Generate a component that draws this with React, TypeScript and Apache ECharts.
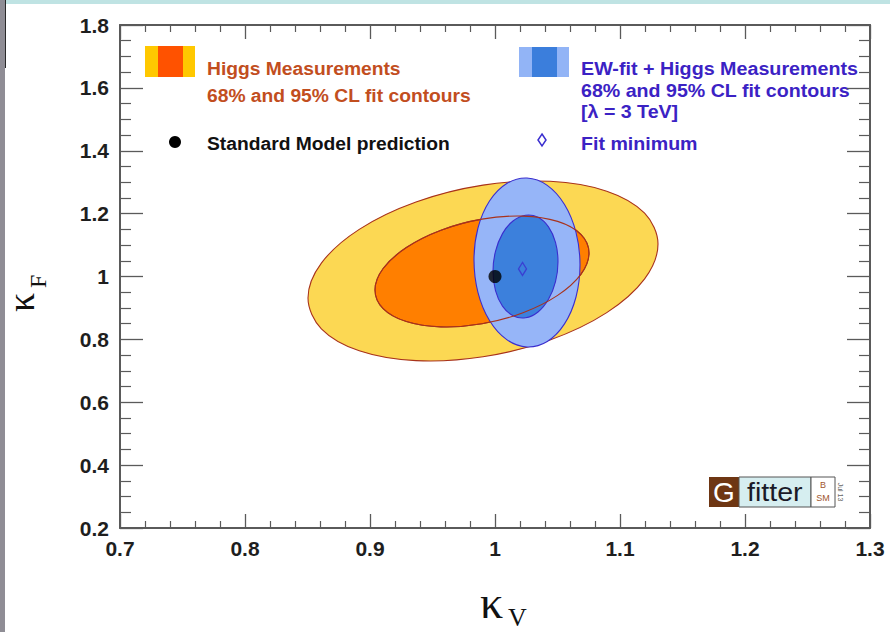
import React, { useEffect, useRef } from "react";
import * as echarts from "echarts";

// Axis ranges and tick labels
const X_MIN = 0.7;
const X_MAX = 1.3;
const X_STEP = 0.1;
const Y_MIN = 0.2;
const Y_MAX = 1.8;
const Y_STEP = 0.2;
const xTickLabels = ["0.7", "0.8", "0.9", "1", "1.1", "1.2", "1.3"];
const yTickLabels = ["0.2", "0.4", "0.6", "0.8", "1", "1.2", "1.4", "1.6", "1.8"];

// Fit contours in the (kappa_V, kappa_F) plane, traced point by point
const higgs95 = [
  [1.1304, 1.1035], [1.1197, 0.9925], [1.0894, 0.8852], [1.0440, 0.7982],
  [0.9904, 0.7445], [0.9368, 0.7324], [0.8914, 0.7638], [0.8611, 0.8337],
  [0.8504, 0.9317], [0.8611, 1.0427], [0.8914, 1.1500], [0.9368, 1.2370],
  [0.9904, 1.2907], [1.0440, 1.3028], [1.0894, 1.2714], [1.1197, 1.2015],
];
const higgs68 = [
  [1.0752, 1.0748], [1.0687, 1.0066], [1.0501, 0.9399], [1.0224, 0.8848],
  [0.9896, 0.8496], [0.9568, 0.8398], [0.9291, 0.8567], [0.9105, 0.8980],
  [0.9040, 0.9572], [0.9105, 1.0254], [0.9291, 1.0921], [0.9568, 1.1472],
  [0.9896, 1.1824], [1.0224, 1.1922], [1.0501, 1.1753], [1.0687, 1.1340],
];
const ewHiggs95 = [
  [1.0680, 1.0370], [1.0648, 0.9348], [1.0556, 0.8492], [1.0418, 0.7934],
  [1.0256, 0.7759], [1.0094, 0.7992], [0.9956, 0.8600], [0.9864, 0.9488],
  [0.9832, 1.0522], [0.9864, 1.1544], [0.9956, 1.2400], [1.0094, 1.2958],
  [1.0256, 1.3133], [1.0418, 1.2900], [1.0556, 1.2292], [1.0648, 1.1404],
];
const ewHiggs68 = [
  [1.0504, 1.0472], [1.0484, 0.9836], [1.0428, 0.9274], [1.0344, 0.8871],
  [1.0244, 0.8688], [1.0144, 0.8753], [1.0060, 0.9058], [1.0004, 0.9554],
  [0.9984, 1.0166], [1.0004, 1.0802], [1.0060, 1.1364], [1.0144, 1.1767],
  [1.0244, 1.1950], [1.0344, 1.1885], [1.0428, 1.1580], [1.0484, 1.1084],
];
const smPrediction = [[1.0, 1.0]];
const fitMinimum = [[1.022, 1.024]];

// Legend texts
const higgsLegend = ["Higgs Measurements", "68% and 95% CL fit contours"];
const ewLegend = ["EW-fit + Higgs Measurements", "68% and 95% CL fit contours", "[λ = 3 TeV]"];
const smLegend = "Standard Model prediction";
const fitLegend = "Fit minimum";

const SANS = '"Liberation Sans", Arial, Helvetica, sans-serif';
const SERIF = '"Liberation Serif", "Times New Roman", serif';
const AXIS_GREY = "#5a5a5a";
const RED_LINE = "#a8321c";
const BLUE_LINE = "#3a2ecf";
const HIGGS_TEXT = "#c24e1e";
const EW_TEXT = "#3b22c4";

function contour(id: string, pts: number[][], fill: string, stroke: string, lineWidth: number) {
  return {
    type: "custom",
    id,
    coordinateSystem: "cartesian2d",
    xAxisIndex: 0,
    yAxisIndex: 0,
    data: pts,
    encode: { x: 0, y: 1 },
    silent: true,
    z: 2,
    renderItem: (params: any, api: any) => {
      if (params.dataIndex !== 0) return;
      const points = pts.map((p) => api.coord(p));
      return {
        type: "polygon",
        shape: { points, smooth: 0.34 },
        style: { fill, stroke, lineWidth },
      };
    },
  };
}

function legendText(x: number, y: number, text: string, fill: string, scaleX = 1.07) {
  return {
    type: "text",
    x,
    y,
    scaleX,
    style: {
      text,
      fill,
      fontFamily: SANS,
      fontWeight: "bold",
      fontSize: 18,
      align: "left",
      verticalAlign: "middle",
    },
  };
}

const tickLabel = (labels: string[], min: number, step: number) => (v: number) =>
  labels[Math.round((v - min) / step)] ?? "";

function xAxisDef(position: "bottom" | "top") {
  return {
    type: "value",
    position,
    min: X_MIN,
    max: X_MAX,
    interval: X_STEP,
    axisLine: { show: true, onZero: false, lineStyle: { color: AXIS_GREY, width: 2 } },
    axisTick: { show: true, inside: true, length: 14, lineStyle: { color: AXIS_GREY, width: 1.3 } },
    minorTick: { show: true, splitNumber: 5, length: 7, lineStyle: { color: AXIS_GREY, width: 1.2 } },
    splitLine: { show: false },
    minorSplitLine: { show: false },
    axisLabel: {
      show: position === "bottom",
      showMinLabel: true,
      showMaxLabel: true,
      margin: 10,
      color: "#1e1e1e",
      fontFamily: SANS,
      fontWeight: "bold",
      fontSize: 21,
      formatter: tickLabel(xTickLabels, X_MIN, X_STEP),
    },
  };
}

function yAxisDef(position: "left" | "right") {
  return {
    type: "value",
    position,
    min: Y_MIN,
    max: Y_MAX,
    interval: Y_STEP,
    axisLine: { show: true, onZero: false, lineStyle: { color: AXIS_GREY, width: 2 } },
    axisTick: { show: true, inside: true, length: 23, lineStyle: { color: AXIS_GREY, width: 1.3 } },
    minorTick: { show: true, splitNumber: 4, length: 11, lineStyle: { color: AXIS_GREY, width: 1.2 } },
    splitLine: { show: false },
    minorSplitLine: { show: false },
    axisLabel: {
      show: position === "left",
      showMinLabel: true,
      showMaxLabel: true,
      margin: 11,
      color: "#1e1e1e",
      fontFamily: SANS,
      fontWeight: "bold",
      fontSize: 21,
      formatter: tickLabel(yTickLabels, Y_MIN, Y_STEP),
    },
  };
}

export default function App() {
  const ref = useRef<HTMLDivElement>(null);

  useEffect(() => {
    document.body.style.margin = "0";
    if (!ref.current) return;
    const chart = echarts.init(ref.current, undefined, { renderer: "svg" });

    const graphic: any[] = [
      // slide frame strips
      { type: "rect", shape: { x: 0, y: 0, width: 5, height: 632 }, style: { fill: "#8f8d95" }, z: 0 },
      { type: "rect", shape: { x: 5, y: 0, width: 1, height: 68 }, style: { fill: "#2a2a2a" }, z: 0 },
      { type: "rect", shape: { x: 6, y: 0, width: 884, height: 4 }, style: { fill: "#bfe3e3" }, z: 0 },

      // Higgs legend entry
      { type: "rect", shape: { x: 145, y: 46, width: 50, height: 31 }, style: { fill: "#ffc800" }, z: 10 },
      { type: "rect", shape: { x: 158, y: 46, width: 25, height: 31 }, style: { fill: "#ff5200" }, z: 11 },
      legendText(207, 69, higgsLegend[0], HIGGS_TEXT),
      legendText(207, 95.5, higgsLegend[1], HIGGS_TEXT),

      // SM legend entry
      { type: "circle", shape: { cx: 175, cy: 142, r: 6 }, style: { fill: "#000" }, z: 10 },
      legendText(207, 144, smLegend, "#111"),

      // EW-fit legend entry
      { type: "rect", shape: { x: 519, y: 47, width: 50, height: 30 }, style: { fill: "#92b4f6" }, z: 10 },
      { type: "rect", shape: { x: 532, y: 47, width: 25, height: 30 }, style: { fill: "#3b7edc" }, z: 11 },
      legendText(581, 69, ewLegend[0], EW_TEXT, 1.095),
      legendText(581, 91, ewLegend[1], EW_TEXT, 1.09),
      legendText(581, 111.5, ewLegend[2], EW_TEXT, 1.09),

      // Fit minimum legend entry
      {
        type: "polygon",
        shape: { points: [[542, 134], [546, 140], [542, 146], [538, 140]] },
        style: { fill: "none", stroke: BLUE_LINE, lineWidth: 1.5 },
        z: 10,
      },
      legendText(581, 144, fitLegend, EW_TEXT, 1.09),

      // Gfitter logo
      { type: "rect", shape: { x: 709, y: 477, width: 30, height: 30 }, style: { fill: "#6e3613" }, z: 10 },
      {
        type: "text", x: 724, y: 492, z: 11,
        style: { text: "G", fill: "#fff", fontFamily: SANS, fontSize: 28, align: "center", verticalAlign: "middle" },
      },
      { type: "rect", shape: { x: 739, y: 477, width: 72, height: 30 }, style: { fill: "#d6eef0", stroke: "#555", lineWidth: 1 }, z: 10 },
      {
        type: "text", x: 747, y: 492, scaleX: 1.1, z: 11,
        style: { text: "fitter", fill: "#1a1a28", fontFamily: SANS, fontSize: 26, align: "left", verticalAlign: "middle" },
      },
      { type: "rect", shape: { x: 811, y: 477, width: 24, height: 30 }, style: { fill: "#fff", stroke: "#555", lineWidth: 1 }, z: 10 },
      {
        type: "text", x: 823, y: 485, z: 11,
        style: { text: "B", fill: "#a0562d", fontFamily: SANS, fontSize: 9, align: "center", verticalAlign: "middle" },
      },
      {
        type: "text", x: 823, y: 498, z: 11,
        style: { text: "SM", fill: "#a0562d", fontFamily: SANS, fontSize: 9, align: "center", verticalAlign: "middle" },
      },
      {
        type: "text", x: 840, y: 492, rotation: -Math.PI / 2, z: 11,
        style: { text: "Jul 13", fill: "#666", fontFamily: SANS, fontSize: 7, lineHeight: 7, align: "center", verticalAlign: "middle" },
      },

      // axis titles
      {
        type: "text", x: 480, y: 602, z: 10,
        style: { text: "κ", fill: "#111", fontFamily: SERIF, fontSize: 46, lineHeight: 30, align: "left", verticalAlign: "middle" },
      },
      {
        type: "text", x: 508, y: 617, z: 10,
        style: { text: "V", fill: "#111", fontFamily: SERIF, fontSize: 26, lineHeight: 18, align: "left", verticalAlign: "middle" },
      },
      {
        type: "group", x: 34, y: 312, rotation: Math.PI / 2, z: 10,
        children: [
          {
            type: "text", x: 0, y: -13,
            style: { text: "κ", fill: "#111", fontFamily: SERIF, fontSize: 38, lineHeight: 24, align: "left", verticalAlign: "middle" },
          },
          {
            type: "text", x: 24, y: 4,
            style: { text: "F", fill: "#111", fontFamily: SERIF, fontSize: 24, lineHeight: 16, align: "left", verticalAlign: "middle" },
          },
        ],
      },
    ];

    chart.setOption({
      animation: false,
      backgroundColor: "#ffffff",
      grid: { left: 120, right: 20, top: 25, bottom: 104, containLabel: false },
      xAxis: [xAxisDef("bottom"), xAxisDef("top")],
      yAxis: [yAxisDef("left"), yAxisDef("right")],
      graphic,
      series: [
        contour("higgs95", higgs95, "#fcd853", RED_LINE, 1.1),
        contour("higgs68", higgs68, "#ff7f00", RED_LINE, 1.1),
        contour("ew95", ewHiggs95, "#96b5f8", BLUE_LINE, 1.1),
        contour("ew68", ewHiggs68, "#3c80dc", BLUE_LINE, 1.1),
        contour("higgs68line", higgs68, "none", RED_LINE, 1.1),
        {
          type: "scatter",
          name: smLegend,
          data: smPrediction,
          symbol: "circle",
          symbolSize: 13,
          itemStyle: { color: "#000" },
          silent: true,
          z: 5,
        },
        {
          type: "scatter",
          name: fitLegend,
          data: fitMinimum,
          symbol: "diamond",
          symbolSize: [8, 13],
          itemStyle: { color: "rgba(0,0,0,0)", borderColor: BLUE_LINE, borderWidth: 1.4 },
          silent: true,
          z: 5,
        },
      ],
    });

    return () => chart.dispose();
  }, []);

  return (
    <div
      ref={ref}
      style={{ position: "absolute", left: 0, top: 0, width: 890, height: 632 }}
    />
  );
}
